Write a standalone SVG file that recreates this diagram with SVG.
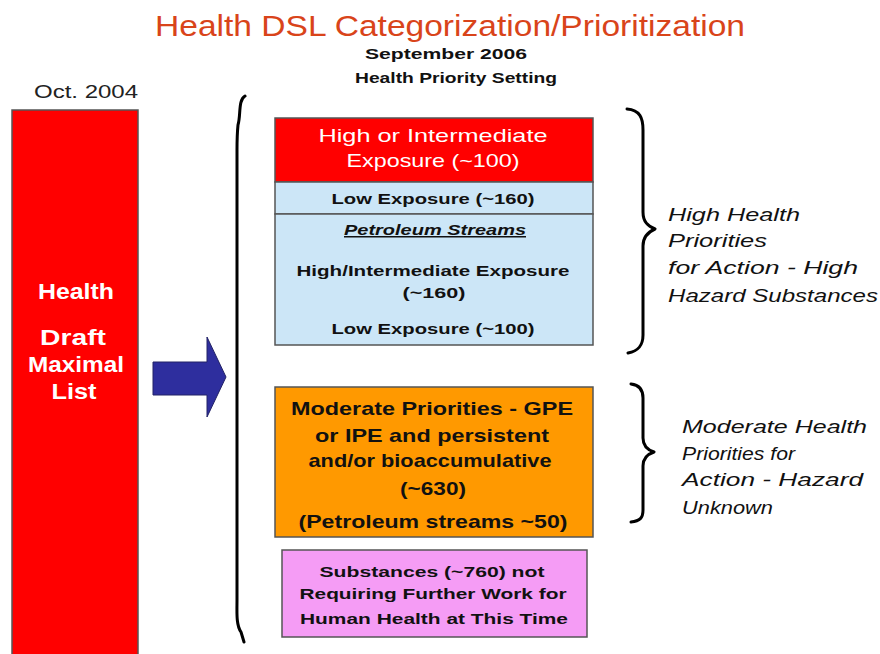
<svg xmlns="http://www.w3.org/2000/svg" width="880" height="654" viewBox="0 0 880 654">
<style>
text{font-family:"Liberation Sans","DejaVu Sans",sans-serif;}
.title{font-size:29px;fill:#d9441a;}
.sub{font-size:15px;font-weight:bold;fill:#111;}
.wt{fill:#fff;font-size:19px;}
.wb{fill:#fff;font-size:22px;font-weight:bold;}
.bk{fill:#111;font-size:15px;font-weight:bold;}
.bo{fill:#111;font-size:19px;font-weight:bold;}
.it{fill:#111;font-size:19px;font-style:italic;}
.box{stroke:#555;stroke-width:1.5;}
.brace{fill:none;stroke:#000;stroke-width:3;stroke-linecap:round;stroke-linejoin:round;}
</style>
<rect width="880" height="654" fill="#fff"/>
<g id="title">
<text class="title" x="450" y="36" text-anchor="middle" textLength="590" lengthAdjust="spacingAndGlyphs">Health DSL Categorization/Prioritization</text>
<text class="sub" x="446" y="59" text-anchor="middle" textLength="162" lengthAdjust="spacingAndGlyphs">September 2006</text>
<text class="sub" x="456" y="83" text-anchor="middle" textLength="202" lengthAdjust="spacingAndGlyphs">Health Priority Setting</text>
</g>
<g id="draft-list">
<text x="34" y="98" style="font-size:18px;fill:#222" textLength="104" lengthAdjust="spacingAndGlyphs">Oct. 2004</text>
<rect x="12" y="110" width="126" height="550" fill="#ff0000" class="box"/>
<text class="wb" x="76" y="299" text-anchor="middle" textLength="76" lengthAdjust="spacingAndGlyphs">Health</text>
<text class="wb" x="73" y="345" text-anchor="middle" textLength="66" lengthAdjust="spacingAndGlyphs">Draft</text>
<text class="wb" x="76" y="372" text-anchor="middle" textLength="96" lengthAdjust="spacingAndGlyphs">Maximal</text>
<text class="wb" x="74" y="399" text-anchor="middle" textLength="45" lengthAdjust="spacingAndGlyphs">List</text>
</g>
<g id="connectors">
<path d="M153,362 H207 V337 L226,377 L207,417 V395 H153 Z" fill="#2e2e9e" stroke="#222266" stroke-width="1"/>
<path class="brace" d="M245,96 C238,100 241,115 238,125 C237,135 237,140 237,150 V600 C237,612 236,625 241,632 L244,642"/>
<path class="brace" d="M627,109 C640,110 643,118 643,130 V212 C643,222 648,226 655,229 C648,232 643,237 643,246 V335 C643,346 638,351 628,353"/>
<path class="brace" d="M631,384 C640,385 643,390 643,398 V438 C643,446 648,450 654,452 C648,454 643,458 643,466 V510 C643,518 640,521 631,522"/>
</g>
<g id="high-intermediate">
<rect x="275" y="118" width="318" height="64" fill="#ff0000" class="box"/>
<text class="wt" x="433" y="142" text-anchor="middle" textLength="229" lengthAdjust="spacingAndGlyphs">High or Intermediate</text>
<text class="wt" x="433" y="167" text-anchor="middle" textLength="173" lengthAdjust="spacingAndGlyphs">Exposure (~100)</text>
</g>
<g id="low-exposure">
<rect x="275" y="182" width="318" height="32" fill="#cce6f7" class="box"/>
<text class="bk" x="433" y="204" text-anchor="middle" textLength="203" lengthAdjust="spacingAndGlyphs">Low Exposure (~160)</text>
</g>
<g id="petroleum">
<rect x="275" y="214" width="318" height="131" fill="#cce6f7" class="box"/>
<text class="bk" x="435" y="235" text-anchor="middle" style="font-style:italic;text-decoration:underline" textLength="182" lengthAdjust="spacingAndGlyphs">Petroleum Streams</text>
<text class="bk" x="433" y="276" text-anchor="middle" textLength="273" lengthAdjust="spacingAndGlyphs">High/Intermediate Exposure</text>
<text class="bk" x="434" y="298" text-anchor="middle" textLength="63" lengthAdjust="spacingAndGlyphs">(~160)</text>
<text class="bk" x="433" y="334" text-anchor="middle" textLength="203" lengthAdjust="spacingAndGlyphs">Low Exposure (~100)</text>
</g>
<g id="moderate">
<rect x="275" y="387" width="318" height="150" fill="#ff9900" class="box"/>
<text class="bo" x="432" y="415" text-anchor="middle" textLength="282" lengthAdjust="spacingAndGlyphs">Moderate Priorities - GPE</text>
<text class="bo" x="432" y="442" text-anchor="middle" textLength="234" lengthAdjust="spacingAndGlyphs">or IPE and persistent</text>
<text class="bo" x="430" y="467" text-anchor="middle" textLength="243" lengthAdjust="spacingAndGlyphs">and/or bioaccumulative</text>
<text class="bo" x="433" y="495" text-anchor="middle" textLength="66" lengthAdjust="spacingAndGlyphs">(~630)</text>
<text class="bo" x="433" y="528" text-anchor="middle" textLength="269" lengthAdjust="spacingAndGlyphs">(Petroleum streams ~50)</text>
</g>
<g id="not-requiring">
<rect x="282" y="550" width="305" height="87" fill="#f59cf5" class="box"/>
<text class="bk" x="432" y="577" text-anchor="middle" textLength="225" lengthAdjust="spacingAndGlyphs">Substances (~760) not</text>
<text class="bk" x="433" y="599" text-anchor="middle" textLength="267" lengthAdjust="spacingAndGlyphs">Requiring Further Work for</text>
<text class="bk" x="434" y="624" text-anchor="middle" textLength="268" lengthAdjust="spacingAndGlyphs">Human Health at This Time</text>
</g>
<g id="high-label">
<text class="it" x="668" y="221" textLength="132" lengthAdjust="spacingAndGlyphs">High Health</text>
<text class="it" x="668" y="247" textLength="99" lengthAdjust="spacingAndGlyphs">Priorities</text>
<text class="it" x="668" y="274" textLength="190" lengthAdjust="spacingAndGlyphs">for Action - High</text>
<text class="it" x="668" y="302" textLength="210" lengthAdjust="spacingAndGlyphs">Hazard Substances</text>
</g>
<g id="moderate-label">
<text class="it" x="682" y="433" textLength="185" lengthAdjust="spacingAndGlyphs">Moderate Health</text>
<text class="it" x="682" y="460" textLength="113" lengthAdjust="spacingAndGlyphs">Priorities for</text>
<text class="it" x="682" y="486" textLength="181" lengthAdjust="spacingAndGlyphs">Action - Hazard</text>
<text class="it" x="682" y="514" textLength="91" lengthAdjust="spacingAndGlyphs">Unknown</text>
</g>
</svg>
